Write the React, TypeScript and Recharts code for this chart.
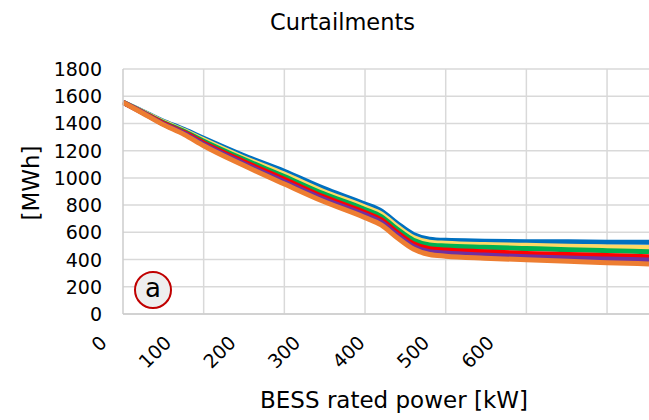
import { LineChart, Line, XAxis, YAxis, CartesianGrid, ReferenceLine } from 'recharts';

// BESS rated power [kW]
const powerKW = [0, 30, 60, 95, 125, 185, 250, 310, 375, 400, 425, 450, 475, 500, 560, 625, 690, 750, 815];

// curtailments [MWh], one array per curve (top to bottom)
const blueSeries = [1555, 1490, 1422, 1355, 1291, 1168, 1049, 925, 808, 758, 665, 585, 550, 541, 535, 531, 530, 528, 527];
const yellowSeries = [1555, 1487, 1417, 1348, 1280, 1152, 1028, 902, 786, 735, 642, 562, 528, 520, 510, 505, 498, 493, 488];
const greenSeries = [1555, 1485, 1412, 1341, 1270, 1140, 1010, 884, 768, 716, 622, 542, 508, 500, 490, 481, 472, 465, 458];
const redSeries = [1555, 1482, 1407, 1333, 1257, 1124, 990, 862, 745, 693, 598, 516, 480, 470, 457, 445, 437, 429, 421];
const purpleSeries = [1555, 1480, 1402, 1326, 1247, 1110, 972, 846, 728, 675, 580, 497, 458, 448, 433, 420, 411, 404, 397];
const orangeSeries = [1555, 1477, 1397, 1318, 1236, 1096, 955, 828, 708, 655, 560, 477, 437, 425, 410, 398, 387, 377, 368];

const xTicks = [0, 100, 200, 300, 400, 500, 600];
// vertical gridlines don't sit on the labelled ticks in the original
const xGridValues = [125, 250, 375, 500, 625, 750];
const yTicks = [0, 200, 400, 600, 800, 1000, 1200, 1400, 1600, 1800];

const series = [
  { key: 's1', values: blueSeries, color: '#0070C0' },
  { key: 's2', values: yellowSeries, color: '#FFD966' },
  { key: 's3', values: greenSeries, color: '#00B050' },
  { key: 's4', values: redSeries, color: '#FF0000' },
  { key: 's5', values: purpleSeries, color: '#7030A0' },
  { key: 's6', values: orangeSeries, color: '#ED7D31' },
];

const data = powerKW.map((p, i) => {
  const row: Record<string, number> = { power: p };
  series.forEach((s) => {
    row[s.key] = s.values[i];
  });
  return row;
});

const FONT = '"DejaVu Sans", Verdana, sans-serif';
const GRID = '#d9d9d9';

function XTick({ x, y, payload }: any) {
  return (
    <g transform={`translate(${x - 20},${y + 25})`}>
      <text transform="rotate(-45)" textAnchor="end" dominantBaseline="central" fontFamily={FONT} fontSize={19} fill="#000">
        {payload.value}
      </text>
    </g>
  );
}

function YTick({ x, y, payload }: any) {
  return (
    <text x={x - 21} y={y} textAnchor="end" dominantBaseline="central" fontFamily={FONT} fontSize={19} fill="#000">
      {payload.value}
    </text>
  );
}

export default function App() {
  return (
    <div style={{ position: 'absolute', left: 0, top: 0, width: 649, height: 420, background: '#fff', fontFamily: FONT }}>
      <div style={{ position: 'absolute', left: 0, width: 685, top: 9, textAlign: 'center', fontSize: 22.5, color: '#000' }}>
        Curtailments
      </div>

      <LineChart width={649} height={420} data={data} margin={{ top: 69, right: 0, bottom: 0, left: 0 }}>
        <CartesianGrid vertical={false} stroke={GRID} strokeWidth={1.5} />
        {xGridValues.map((v) => (
          <ReferenceLine key={v} x={v} stroke={GRID} strokeWidth={1.5} />
        ))}
        <XAxis
          dataKey="power"
          type="number"
          domain={[0, 815]}
          ticks={xTicks}
          interval={0}
          height={106}
          tickSize={0}
          tickMargin={0}
          tickLine={false}
          axisLine={{ stroke: '#cccccc', strokeWidth: 1.5 }}
          tick={<XTick />}
        />
        <YAxis
          type="number"
          domain={[0, 1800]}
          ticks={yTicks}
          interval={0}
          width={123}
          tickSize={0}
          tickMargin={0}
          tickLine={false}
          axisLine={{ stroke: '#cccccc', strokeWidth: 1.5 }}
          tick={<YTick />}
        />
        {series.map((s) => (
          <Line
            key={s.key}
            dataKey={s.key}
            type="monotone"
            stroke={s.color}
            strokeWidth={5}
            dot={false}
            activeDot={false}
            isAnimationActive={false}
          />
        ))}
      </LineChart>

      <div
        style={{
          position: 'absolute',
          left: 31,
          top: 183,
          transform: 'translate(-50%, -50%) rotate(-90deg)',
          fontSize: 23,
          color: '#000',
          whiteSpace: 'nowrap',
        }}
      >
        [MWh]
      </div>

      <div style={{ position: 'absolute', left: 0, width: 788, top: 387, textAlign: 'center', fontSize: 23, color: '#000', whiteSpace: 'nowrap' }}>
        BESS rated power [kW]
      </div>

      <div
        style={{
          position: 'absolute',
          left: 134,
          top: 271,
          width: 34,
          height: 34,
          borderRadius: '50%',
          border: '2.5px solid #C00000',
          background: '#eeeeee',
          textAlign: 'center',
          lineHeight: '30px',
          fontSize: 26,
          color: '#000',
        }}
      >
        a
      </div>
    </div>
  );
}
